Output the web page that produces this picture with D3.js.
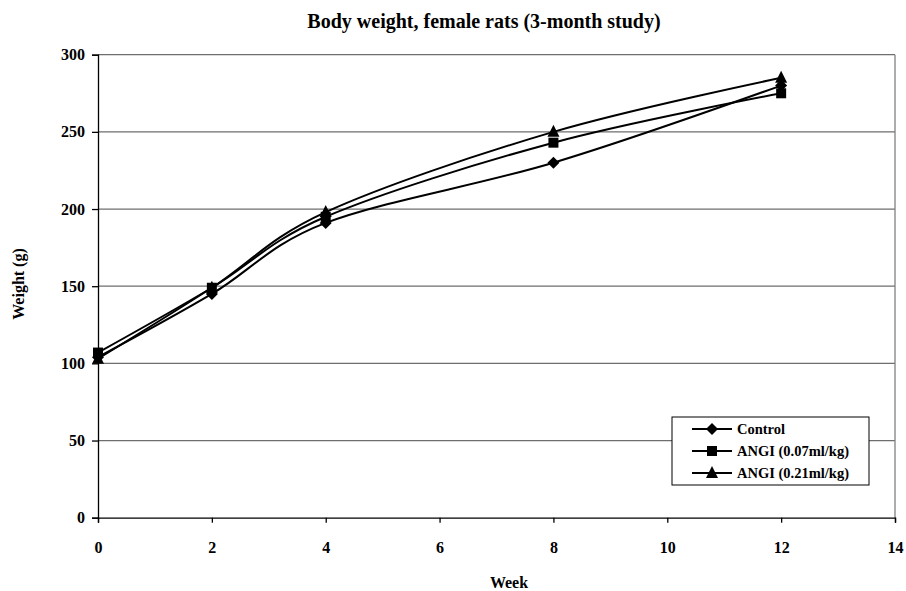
<html>
<meta charset="utf-8">
<style type="text/css">
  body { margin: 0; background: #fff; }
  text { font-family: "Liberation Serif", "Times New Roman", serif; font-weight: bold; fill: #000; }
</style>
<body>
<script src="https://d3js.org/d3.v7.min.js"></script>
<div id="chart"></div>
<script>
  const weeks = [0, 2, 4, 8, 12];
  const control = [104, 145, 191, 230, 280];
  const angiLow = [107, 149, 195, 243, 275];
  const angiHigh = [103, 149, 198, 250, 285];
  const seriesNames = ["Control", "ANGI (0.07ml/kg)", "ANGI (0.21ml/kg)"];
  const xTicks = [0, 2, 4, 6, 8, 10, 12, 14];
  const yTicks = [0, 50, 100, 150, 200, 250, 300];

  const width = 906, height = 591;
  const plotLeft = 98, plotRight = 895, plotTop = 54.7, plotBottom = 517.7;

  const svg = d3.select("#chart").append("svg")
    .attr("width", width)
    .attr("height", height);

  const x = d3.scaleLinear().domain([0, 14]).range([plotLeft, plotRight]);
  const y = d3.scaleLinear().domain([0, 300]).range([plotBottom, plotTop]);

  // gridlines
  svg.append("g")
    .selectAll("line")
    .data(yTicks.filter(d => d > 0))
    .enter()
    .append("line")
    .attr("x1", plotLeft).attr("x2", plotRight)
    .attr("y1", d => y(d)).attr("y2", d => y(d))
    .style("stroke", "#6e6e6e")
    .style("stroke-width", 1.3);

  // plot area right border
  svg.append("line")
    .attr("x1", plotRight).attr("x2", plotRight)
    .attr("y1", plotTop).attr("y2", plotBottom)
    .style("stroke", "#808080")
    .style("stroke-width", 1.3);

  // axes
  const xAxis = svg.append("g")
    .attr("transform", `translate(0,${plotBottom})`)
    .call(d3.axisBottom(x).tickValues(xTicks).tickSize(5).tickPadding(19).tickFormat(d3.format("d")));
  const yAxis = svg.append("g")
    .attr("transform", `translate(${plotLeft},0)`)
    .call(d3.axisLeft(y).tickValues(yTicks).tickSize(6).tickPadding(7).tickFormat(d3.format("d")));

  [xAxis, yAxis].forEach(a => {
    a.select(".domain").style("stroke", "#000").style("stroke-width", 1.3);
    a.selectAll(".tick line").style("stroke", "#000").style("stroke-width", 1.3);
    a.selectAll(".tick text")
      .style("font-family", '"Liberation Serif", serif')
      .style("font-weight", "bold")
      .style("font-size", "16px")
      .style("fill", "#000");
  });

  const all = [control, angiLow, angiHigh];
  const line = d3.line()
    .x((d, i) => x(weeks[i]))
    .y(d => y(d))
    .curve(d3.curveCardinal.tension(0));

  function drawMarker(g, k, cx, cy) {
    if (k === 0) {
      g.append("path")
        .attr("d", `M${cx},${cy - 6}L${cx + 6},${cy}L${cx},${cy + 6}L${cx - 6},${cy}Z`)
        .style("fill", "#000");
    } else if (k === 1) {
      g.append("rect")
        .attr("x", cx - 5).attr("y", cy - 5).attr("width", 10).attr("height", 10)
        .style("fill", "#000");
    } else {
      g.append("path")
        .attr("d", `M${cx},${cy - 7}L${cx + 6},${cy + 5}L${cx - 6},${cy + 5}Z`)
        .style("fill", "#000");
    }
  }

  all.forEach(vals => {
    svg.append("path")
      .datum(vals)
      .attr("d", line)
      .style("fill", "none")
      .style("stroke", "#000")
      .style("stroke-width", 2);
  });
  all.forEach((vals, k) => {
    const g = svg.append("g");
    vals.forEach((v, i) => drawMarker(g, k, x(weeks[i]), y(v)));
  });

  // title
  svg.append("text")
    .attr("x", 484).attr("y", 28)
    .attr("text-anchor", "middle")
    .style("font-size", "20px")
    .text("Body weight, female rats (3-month study)");

  svg.append("text")
    .attr("x", 509).attr("y", 588)
    .attr("text-anchor", "middle")
    .style("font-size", "16px")
    .text("Week");

  svg.append("text")
    .attr("transform", "translate(24,284) rotate(-90)")
    .attr("text-anchor", "middle")
    .style("font-size", "16px")
    .text("Weight (g)");

  // legend
  const legend = svg.append("g");
  legend.append("rect")
    .attr("x", 672).attr("y", 417).attr("width", 197).attr("height", 68)
    .style("fill", "#fff")
    .style("stroke", "#000")
    .style("stroke-width", 1);
  seriesNames.forEach((name, k) => {
    const ly = 429 + k * 22;
    legend.append("line")
      .attr("x1", 692).attr("x2", 732).attr("y1", ly).attr("y2", ly)
      .style("stroke", "#000").style("stroke-width", 2);
    drawMarker(legend, k, 712, ly);
    legend.append("text")
      .attr("x", 737).attr("y", ly + 5)
      .style("font-size", "14.5px")
      .text(name);
  });
</script>
</body>
</html>
